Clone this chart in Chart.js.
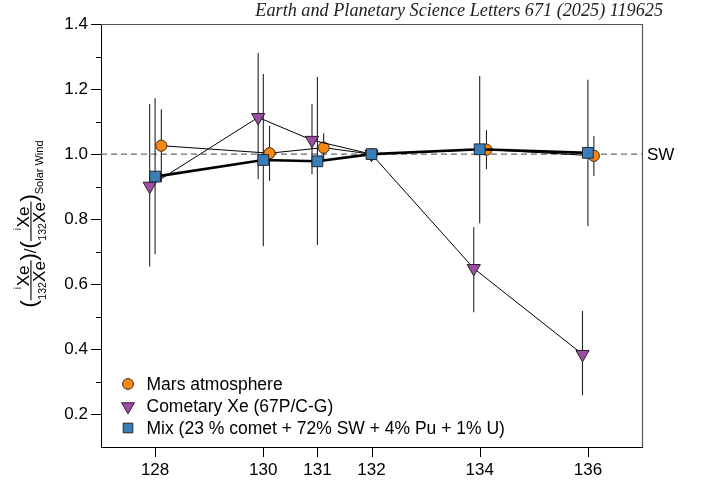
<!DOCTYPE html>
<html><head><meta charset="utf-8">
<script src="https://cdn.jsdelivr.net/npm/chart.js@4"></script>
<style>
html,body{margin:0;padding:0;background:#fff;}
#wrap{position:relative;width:704px;height:485px;}
canvas{display:block;}
</style></head>
<body><div id="wrap"><canvas id="c" width="704" height="485"></canvas></div>
<script>
// ---------- data ----------
const isotopes     = [128, 130, 131, 132, 134, 136];
const marsValues   = [1.026, 1.003, 1.020, 1.000, 1.014, 0.995];
const marsUpper    = [1.138, 1.087, 1.064, 1.000, 1.074, 1.056];
const marsLower    = [0.914, 0.918, 0.976, 1.000, 0.954, 0.933];
const cometValues  = [0.902, 1.113, 1.043, 1.000, 0.649, 0.385];
const cometUpper   = [1.154, 1.311, 1.154, 1.000, 0.775, 0.518];
const cometLower   = [0.655, 0.923, 0.938, 1.000, 0.514, 0.259];
const mixValues    = [0.931, 0.982, 0.978, 1.000, 1.015, 1.004];
const mixUpper     = [1.172, 1.246, 1.237, 1.000, 1.240, 1.229];
const mixLower     = [0.692, 0.717, 0.721, 1.000, 0.788, 0.779];
const xTickValues  = [128, 130, 131, 132, 134, 136];
const yMajorTicks  = [0.2, 0.4, 0.6, 0.8, 1.0, 1.2, 1.4];
const yMinorTicks  = [0.3, 0.5, 0.7, 0.9, 1.1, 1.3];
const referenceLevel = 1.0;
const referenceLabel = 'SW';
const seriesLabels = ['Mars atmosphere', 'Cometary Xe (67P/C-G)', 'Mix (23 % comet + 72% SW + 4% Pu + 1% U)'];
const headerText = 'Earth and Planetary Science Letters 671 (2025) 119625';

// ---------- styling ----------
const FONT = '"Liberation Sans", Arial, Helvetica, sans-serif';
// small horizontal dodge of markers so overlapping error bars stay visible (none at the normalising isotope)
const marsDodge  = [0.115, 0.115, 0.115, 0, 0.125, 0.11];
const cometDodge = [-0.1, -0.095, -0.1, 0, -0.11, -0.1];
const mixDodge   = [0, 0, 0, 0, 0, 0];

function pts(vals, up, lo, dodge) {
  return isotopes.map((iso, i) => ({ x: iso + dodge[i], y: vals[i], yMax: up[i], yMin: lo[i] }));
}

const datasets = [
  { label: seriesLabels[0], data: pts(marsValues, marsUpper, marsLower, marsDodge),
    showLine: true, borderColor: '#000', borderWidth: 1, pointStyle: 'circle', pointRadius: 5.6,
    pointBackgroundColor: '#F8870E', pointBorderColor: '#3a2a1a', pointBorderWidth: 1, order: 2 },
  { label: seriesLabels[1], data: pts(cometValues, cometUpper, cometLower, cometDodge),
    showLine: true, borderColor: '#000', borderWidth: 1, pointStyle: 'triangle', rotation: 180, pointRadius: 7.6,
    pointBackgroundColor: '#9A4FA3', pointBorderColor: '#2a1a2a', pointBorderWidth: 1, order: 1 },
  { label: seriesLabels[2], data: pts(mixValues, mixUpper, mixLower, mixDodge),
    showLine: true, borderColor: '#000', borderWidth: 2.6, pointStyle: 'rect', pointRadius: 7.6,
    pointBackgroundColor: '#3A7EB8', pointBorderColor: '#1a2a3a', pointBorderWidth: 1, order: 0 }
];

function drawMarker(ctx, style, x, y, r, fill, stroke) {
  ctx.save();
  ctx.fillStyle = fill; ctx.strokeStyle = stroke; ctx.lineWidth = 1;
  ctx.beginPath();
  if (style === 'circle') {
    ctx.arc(x, y, r, 0, Math.PI * 2);
  } else if (style === 'triangle') {
    const w = r * Math.sqrt(3) / 2;
    ctx.moveTo(x - w, y - r / 2); ctx.lineTo(x + w, y - r / 2); ctx.lineTo(x, y + r); ctx.closePath();
  } else {
    const s = r * Math.SQRT1_2;
    ctx.rect(x - s, y - s, 2 * s, 2 * s);
  }
  ctx.fill(); ctx.stroke();
  ctx.restore();
}

const decorPlugin = {
  id: 'decor',
  beforeDatasetsDraw(chart) {
    const { ctx, chartArea: a, scales: { x: xs, y: ys } } = chart;
    const yr = ys.getPixelForValue(referenceLevel);
    ctx.save();
    ctx.strokeStyle = '#6a6a6a'; ctx.lineWidth = 1.4; ctx.setLineDash([6, 4]);
    ctx.beginPath(); ctx.moveTo(a.left, yr); ctx.lineTo(a.right, yr); ctx.stroke();
    ctx.setLineDash([]);
    ctx.strokeStyle = '#222'; ctx.lineWidth = 1.1;
    chart.data.datasets.forEach((ds, i) => {
      const meta = chart.getDatasetMeta(i);
      meta.data.forEach((el, j) => {
        const d = ds.data[j];
        const y1 = ys.getPixelForValue(d.yMax), y2 = ys.getPixelForValue(d.yMin);
        if (Math.abs(y2 - y1) < 1) return;
        ctx.beginPath(); ctx.moveTo(el.x, y1); ctx.lineTo(el.x, y2); ctx.stroke();
      });
    });
    ctx.restore();
  },
  afterDraw(chart) {
    const { ctx, chartArea: a, scales: { x: xs, y: ys } } = chart;
    ctx.save();
    ctx.strokeStyle = '#555'; ctx.lineWidth = 1.2;
    ctx.beginPath(); ctx.moveTo(a.left, a.top + 0.5); ctx.lineTo(a.right + 0.5, a.top + 0.5); ctx.lineTo(a.right + 0.5, a.bottom); ctx.stroke();
    ctx.strokeStyle = '#000'; ctx.lineWidth = 1;
    yMajorTicks.forEach(v => { const y = Math.round(ys.getPixelForValue(v)) + 0.5; ctx.beginPath(); ctx.moveTo(a.left - 10, y); ctx.lineTo(a.left, y); ctx.stroke(); });
    yMinorTicks.forEach(v => { const y = Math.round(ys.getPixelForValue(v)) + 0.5; ctx.beginPath(); ctx.moveTo(a.left - 5, y); ctx.lineTo(a.left, y); ctx.stroke(); });
    xTickValues.forEach(v => { const x = Math.round(xs.getPixelForValue(v)) + 0.5; ctx.beginPath(); ctx.moveTo(x, a.bottom); ctx.lineTo(x, a.bottom + 10); ctx.stroke(); });
    ctx.fillStyle = '#000'; ctx.font = '17px ' + FONT; ctx.textBaseline = 'middle'; ctx.textAlign = 'left';
    ctx.fillText(referenceLabel, a.right + 5, ys.getPixelForValue(referenceLevel) + 1);
    const rows = [384, 406.5, 428];
    chart.data.datasets.forEach((ds, i) => {
      const r = ds.pointStyle === 'circle' ? 5.4 : (ds.pointStyle === 'triangle' ? 7.4 : 6.8);
      drawMarker(ctx, ds.pointStyle, a.left + 27, rows[i], r, ds.pointBackgroundColor, ds.pointBorderColor);
      ctx.fillStyle = '#000'; ctx.font = '17.5px ' + FONT; ctx.textBaseline = 'middle'; ctx.textAlign = 'left';
      ctx.fillText(ds.label, a.left + 45.5, rows[i] + 1);
    });
    ctx.font = 'italic 16px "Liberation Serif", "Times New Roman", serif';
    const w16 = ctx.measureText(headerText).width;
    const fs = 16 * 408 / w16;
    ctx.font = 'italic ' + fs.toFixed(2) + 'px "Liberation Serif", "Times New Roman", serif';
    ctx.fillStyle = '#222'; ctx.textAlign = 'right'; ctx.textBaseline = 'alphabetic';
    ctx.fillText(headerText, 663, 16);
    ctx.restore();
    drawYTitle(ctx);
  }
};

function drawYTitle(ctx) {
  const cx = 31, cy = 224;
  const big = '17px ' + FONT, small = '10.5px ' + FONT, paren = '22px ' + FONT, sub = '11px ' + FONT;
  ctx.save();
  ctx.translate(cx, cy);
  ctx.rotate(-Math.PI / 2);
  ctx.fillStyle = '#000'; ctx.textAlign = 'left'; ctx.textBaseline = 'alphabetic';
  const w = (f, t) => { ctx.font = f; return ctx.measureText(t).width; };
  const numW = w(small, 'i') + 0.5 + w(big, 'Xe');
  const denW = w(small, '132') + 0.3 + w(big, 'Xe');
  const fracW = Math.max(numW, denW) + 1;
  const total = 4 * w(paren, '(') + 2 * fracW + w(big, '/') + w(sub, 'Solar Wind');
  let x = -total / 2;
  const put = (f, t, y) => { ctx.font = f; ctx.fillText(t, x, y); x += ctx.measureText(t).width; };
  const frac = () => {
    const x0 = x;
    ctx.fillRect(x0, -0.6, fracW, 1.1);
    let nx = x0 + (fracW - numW) / 2 + 3;
    ctx.font = small; ctx.fillText('i', nx, -10); nx += w(small, 'i') + 0.5;
    ctx.font = big; ctx.fillText('Xe', nx, -2);
    let dx = x0 + (fracW - denW) / 2;
    ctx.font = small; ctx.fillText('132', dx, 15); dx += w(small, '132') + 0.3;
    ctx.font = big; ctx.fillText('Xe', dx, 14);
    x = x0 + fracW;
  };
  put(paren, '(', 5); frac(); put(paren, ')', 5); put(big, '/', 5); put(paren, '(', 5); frac(); put(paren, ')', 5);
  put(sub, 'Solar Wind', 12);
  ctx.restore();
}

new Chart(document.getElementById('c'), {
  type: 'scatter',
  data: { datasets },
  options: {
    responsive: false, animation: false, devicePixelRatio: 1,
    layout: { padding: { left: 0, top: 24, right: 62, bottom: 0 } },
    plugins: { legend: { display: false }, tooltip: { enabled: false } },
    elements: { line: { tension: 0, fill: false } },
    scales: {
      x: {
        type: 'linear', min: 127, max: 137,
        afterBuildTicks: s => { s.ticks = xTickValues.map(v => ({ value: v })); },
        afterFit: s => { s.height = 38; },
        grid: { display: false, drawTicks: false },
        border: { display: true, color: '#000', width: 1 },
        ticks: { color: '#000', padding: 13, maxRotation: 0, autoSkip: false, font: { family: FONT, size: 17 }, callback: v => String(v) }
      },
      y: {
        type: 'linear', min: 0.1, max: 1.4,
        afterBuildTicks: s => { s.ticks = yMajorTicks.map(v => ({ value: v })); },
        afterFit: s => { s.width = 101; },
        grid: { display: false, drawTicks: false },
        border: { display: true, color: '#000', width: 1 },
        ticks: { color: '#000', padding: 13, autoSkip: false, font: { family: FONT, size: 17 }, callback: v => Number(v).toFixed(1) }
      }
    }
  },
  plugins: [decorPlugin]
});
</script>
</body></html>
